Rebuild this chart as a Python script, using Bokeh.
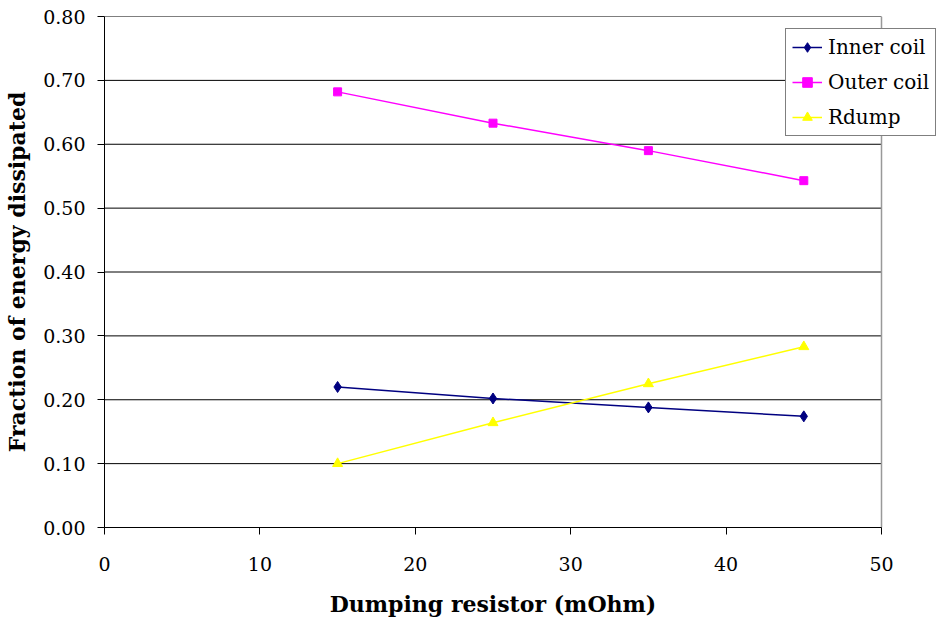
from bokeh.plotting import figure
from bokeh.embed import file_html
from bokeh.resources import INLINE
from bokeh.models import Legend, LegendItem, NumeralTickFormatter, FixedTicker, Range1d

x_vals = [15, 25, 35, 45]
inner_coil = [0.220, 0.202, 0.188, 0.174]
outer_coil = [0.682, 0.633, 0.590, 0.543]
rdump = [0.100, 0.164, 0.225, 0.283]
x_ticks = [0, 10, 20, 30, 40, 50]
y_ticks = [0.0, 0.1, 0.2, 0.3, 0.4, 0.5, 0.6, 0.7, 0.8]

FONT = "DejaVu Serif"
X_MAX = 50
X_VIEW_END = X_MAX * 832 / 777  # leaves room for the legend to the right of x=50

p = figure(width=936, height=626, output_backend="svg", toolbar_location=None,
           x_range=Range1d(0, X_VIEW_END), y_range=Range1d(0, 0.8),
           min_border_left=104, min_border_right=0, min_border_top=16, min_border_bottom=99)

p.background_fill_color = "white"
p.border_fill_color = "white"
p.outline_line_color = None

p.xgrid.grid_line_color = None
p.ygrid.grid_line_color = None

# horizontal gridlines limited to the data range 0..50
p.segment(x0=[0] * len(y_ticks), x1=[X_MAX] * len(y_ticks), y0=y_ticks, y1=y_ticks,
          line_color="black", line_width=1)
# right border of the plot area
p.segment(x0=[X_MAX], x1=[X_MAX], y0=[y_ticks[0]], y1=[y_ticks[-1]],
          line_color="#999999", line_width=1.5)

p.xaxis.ticker = FixedTicker(ticks=x_ticks)
p.xaxis.bounds = (0, X_MAX)
p.yaxis.ticker = FixedTicker(ticks=y_ticks)
p.yaxis.formatter = NumeralTickFormatter(format="0.00")

for ax in (p.xaxis, p.yaxis):
    ax.axis_line_color = "black"
    ax.major_tick_line_color = "black"
    ax.minor_tick_line_color = None
    ax.major_tick_in = 0
    ax.major_tick_out = 7
    ax.major_label_text_font = FONT
    ax.major_label_text_font_size = "19px"
    ax.major_label_text_color = "black"
    ax.axis_label_text_font = FONT
    ax.axis_label_text_font_style = "bold"
    ax.axis_label_text_font_size = "22px"
    ax.axis_label_text_color = "black"

# trailing em/en spaces shift the centred label back over the 0..50 data area
p.xaxis.axis_label = "Dumping resistor (mOhm)\u2003\u2003\u2002"
p.yaxis.axis_label = "Fraction of energy dissipated"
p.xaxis.major_label_standoff = 22
p.xaxis.axis_label_standoff = 17
p.yaxis.major_label_standoff = 12
p.yaxis.axis_label_standoff = 10

l1 = p.line(x_vals, inner_coil, line_color="#000080", line_width=1.5)
m1 = p.scatter(x_vals, inner_coil, marker="diamond", size=11, fill_color="#000080", line_color="#000080")
l2 = p.line(x_vals, outer_coil, line_color="#FF00FF", line_width=1.5)
m2 = p.scatter(x_vals, outer_coil, marker="square", size=8, fill_color="#FF00FF", line_color="#FF00FF")
l3 = p.line(x_vals, rdump, line_color="#FFFF00", line_width=1.5)
m3 = p.scatter(x_vals, rdump, marker="triangle", size=10, fill_color="#FFFF00", line_color="#FFFF00")

legend = Legend(items=[
    LegendItem(label="Inner coil", renderers=[l1, m1]),
    LegendItem(label="Outer coil", renderers=[l2, m2]),
    LegendItem(label="Rdump", renderers=[l3, m3]),
], location=(681, 391))
legend.label_text_font = FONT
legend.label_text_font_size = "20px"
legend.label_text_color = "black"
legend.border_line_color = "black"
legend.border_line_width = 1
legend.background_fill_color = "white"
legend.background_fill_alpha = 1
legend.glyph_width = 30
legend.glyph_height = 24
legend.label_height = 24
legend.spacing = 11
legend.padding = 6
legend.margin = 0
legend.label_standoff = 6
p.add_layout(legend, "center")

open("out.html", "w").write(file_html(p, INLINE))
